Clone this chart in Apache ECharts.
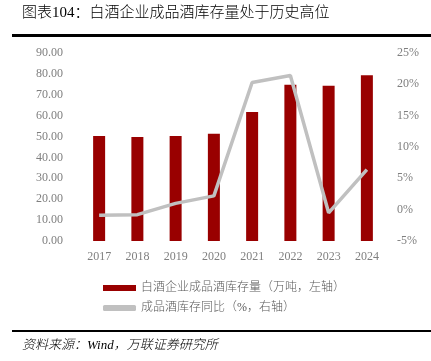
<!DOCTYPE html>
<html><head><meta charset="utf-8">
<script src="https://cdn.jsdelivr.net/npm/echarts@6/dist/echarts.min.js"></script>
<style>html,body{margin:0;padding:0;background:#fff}#c{width:431px;height:361px}</style>
</head><body><div id="c"></div>
<script>
const categories = ['2017','2018','2019','2020','2021','2022','2023','2024'];
const inventory = [50.3, 49.8, 50.3, 51.3, 61.7, 74.8, 74.3, 79.4];
const yoy = [-0.9, -0.8, 1.0, 2.2, 20.3, 21.4, -0.5, 6.4];
const leftTicks = {min: 0, max: 90, interval: 10};
const rightTicks = {min: -5, max: 25, interval: 5};
const titleText = '图表104：白酒企业成品酒库存量处于历史高位';
const sourceText = '资料来源：Wind，万联证券研究所';
const barName = '白酒企业成品酒库存量（万吨，左轴）';
const lineName = '成品酒库存同比（%，右轴）';

const serif = '"Liberation Serif","DejaVu Serif","Noto Sans CJK SC",serif';
const chart = echarts.init(document.getElementById('c'));
chart.setOption({
  animation: false,
  backgroundColor: '#fff',
  graphic: [
    {type: 'text', left: 22, top: 6, style: {text: titleText, font: '300 15px ' + serif, fill: '#000'}},
    {type: 'rect', shape: {x: 12, y: 34, width: 419, height: 3}, style: {fill: '#000'}},
    {type: 'rect', shape: {x: 12, y: 330, width: 419, height: 2}, style: {fill: '#000'}},
    {type: 'text', left: 22, top: 339, style: {text: sourceText, font: 'italic 300 13px ' + serif, fill: '#000'}}
  ],
  grid: {left: 80, right: 45, top: 53, bottom: 120},
  legend: {
    orient: 'vertical', left: 98, top: 277, itemWidth: 33, itemHeight: 6, itemGap: 8,
    textStyle: {color: '#595959', fontSize: 12, fontFamily: serif, fontWeight: 300},
    data: [{name: barName, icon: 'rect'}, {name: lineName, icon: 'roundRect'}]
  },
  xAxis: {
    type: 'category', data: categories,
    axisLine: {show: false}, axisTick: {show: false},
    axisLabel: {color: '#7F7F7F', fontSize: 12, fontFamily: serif, margin: 10}
  },
  yAxis: [
    {type: 'value', min: leftTicks.min, max: leftTicks.max, interval: leftTicks.interval,
     splitLine: {show: false}, axisLine: {show: false}, axisTick: {show: false},
     axisLabel: {color: '#7F7F7F', fontSize: 12, fontFamily: serif, margin: 17,
       formatter: v => v.toFixed(2)}},
    {type: 'value', min: rightTicks.min, max: rightTicks.max, interval: rightTicks.interval,
     splitLine: {show: false}, axisLine: {show: false}, axisTick: {show: false},
     axisLabel: {color: '#7F7F7F', fontSize: 12, fontFamily: serif, margin: 11,
       formatter: v => v + '%'}}
  ],
  series: [
    {name: barName, type: 'bar', data: inventory, barWidth: 12, yAxisIndex: 0,
     itemStyle: {color: '#990000'}},
    {name: lineName, type: 'line', data: yoy, yAxisIndex: 1, symbol: 'none',
     lineStyle: {color: '#C0C0C0', width: 3.5}, itemStyle: {color: '#C0C0C0'}}
  ]
});
</script></body></html>
